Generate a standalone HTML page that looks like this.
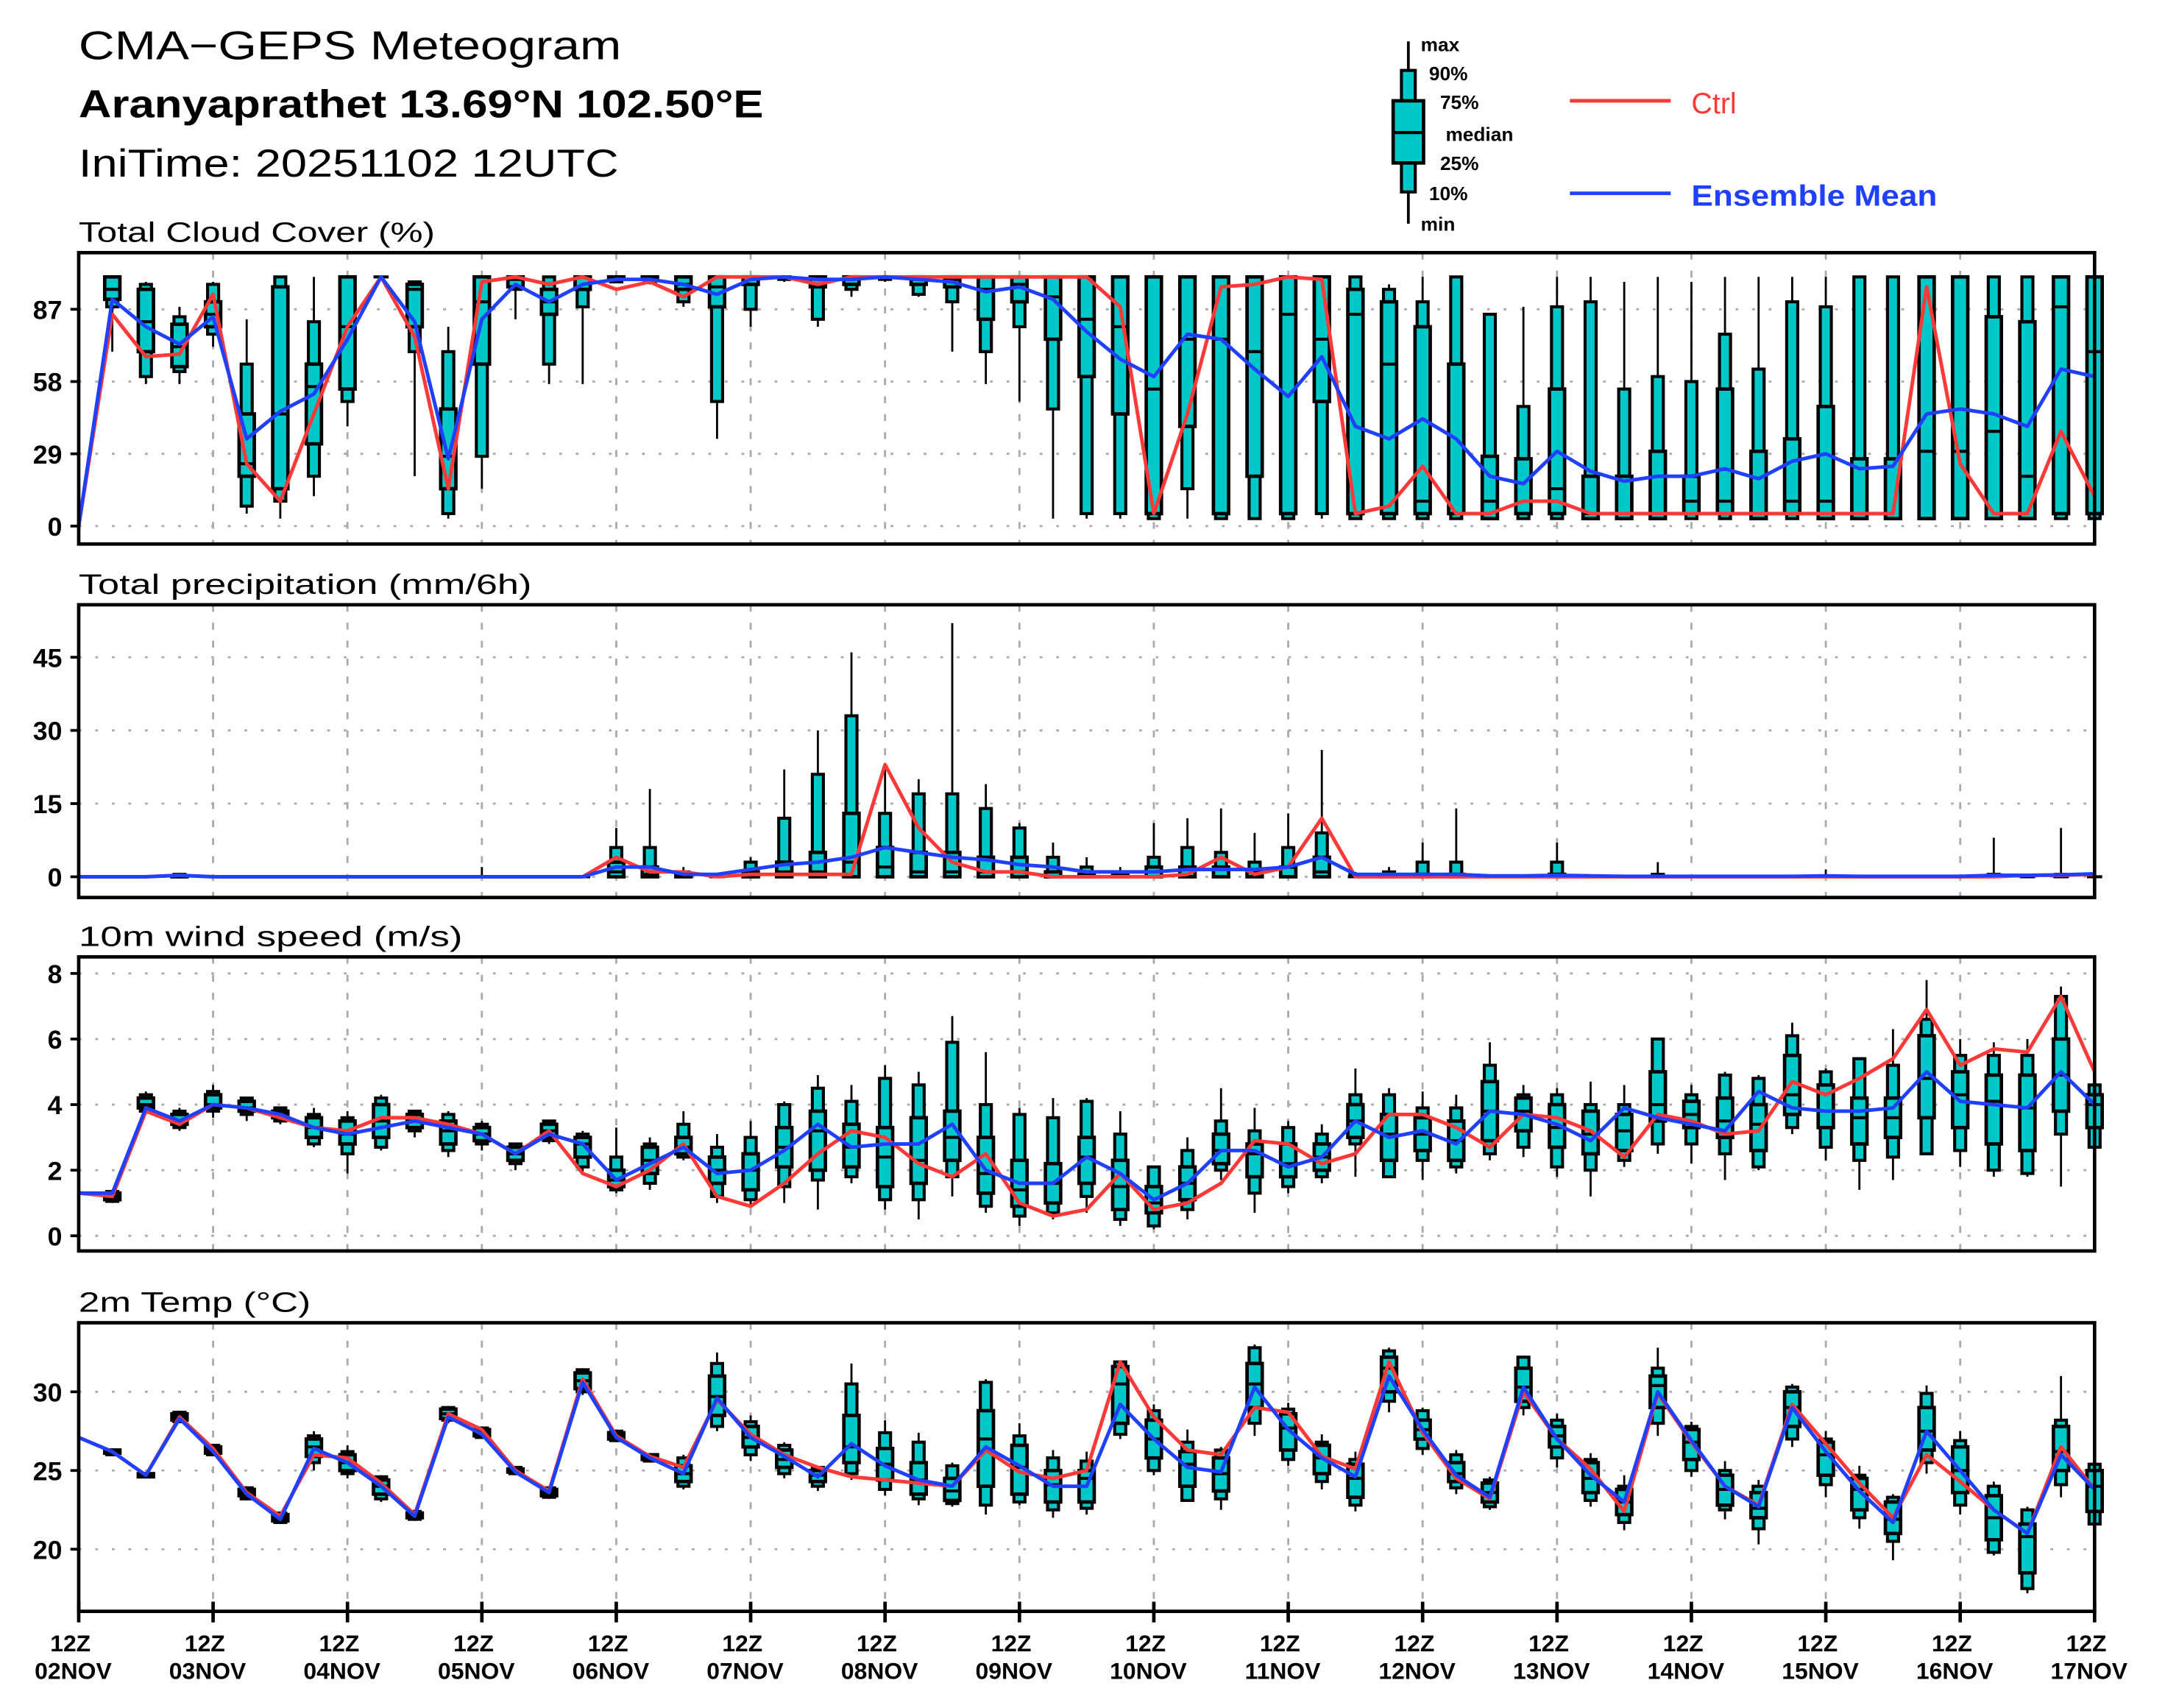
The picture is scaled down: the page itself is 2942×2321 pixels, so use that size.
<!DOCTYPE html>
<html><head><meta charset="utf-8"><style>
html,body{margin:0;padding:0;background:#fff;}
svg{display:block;}
text{font-family:"Liberation Sans",sans-serif;}
</style></head><body>
<svg id="chart" width="2942" height="2321" viewBox="0 0 1568 1237" preserveAspectRatio="none" xmlns="http://www.w3.org/2000/svg">
<rect x="0" y="0" width="1568" height="1237" fill="#fff"/>
<text x="57" y="43" font-size="29" textLength="393" lengthAdjust="spacingAndGlyphs">CMA−GEPS Meteogram</text>
<text x="57" y="85" font-size="28" font-weight="bold" textLength="496" lengthAdjust="spacingAndGlyphs">Aranyaprathet 13.69°N 102.50°E</text>
<text x="57" y="128" font-size="28" textLength="391" lengthAdjust="spacingAndGlyphs">IniTime: 20251102 12UTC</text>
<g id="legend"></g>
<g id="panels"></g>
</svg>
<script>
// ---------- data (index 0..60, 6-hourly from 02NOV 12Z) ----------
const dayLabels = ["02NOV","03NOV","04NOV","05NOV","06NOV","07NOV","08NOV","09NOV","10NOV","11NOV","12NOV","13NOV","14NOV","15NOV","16NOV","17NOV"];
const cloudTicks = [0,29,58,87];
const precipTicks = [0,15,30,45];
const windTicks = [0,2,4,6,8];
const tempTicks = [20,25,30];

const cloudCtrl = [0,85,68,69,93,25,10,45,80,100,76,15,98,100,97,100,95,98,92,100,100,100,97,100,100,100,100,100,100,100,100,88,5,45,96,97,100,99,5,8,24,5,5,10,10,5,5,5,5,5,5,5,5,5,5,96,25,5,5,38,12];
const cloudMean = [0,91,80,73,84,35,46,53,75,100,82,27,83,97,90,97,99,99,97,93,99,100,99,99,100,99,98,94,96,91,78,67,60,77,75,63,52,68,40,35,43,35,20,17,30,22,18,20,20,23,19,26,29,23,24,45,47,45,40,63,60];
const cloudMin = [null,70,57,57,72,5,3,12,40,100,20,3,15,83,57,57,98,97,88,35,80,98,80,92,98,92,70,57,50,3,3,3,3,3,3,3,3,3,3,3,3,3,3,3,3,3,3,3,3,3,3,3,3,3,3,3,3,3,3,3,3];
const cloudP10 = [null,88,60,62,77,8,10,20,50,100,70,5,28,95,65,88,98,98,90,50,87,99,83,95,99,93,90,70,80,47,5,5,3,15,3,3,3,5,3,3,3,3,3,3,3,3,3,3,3,3,3,3,3,3,3,3,3,3,3,3,3];
const cloudQ1 = [null,91,70,64,80,20,15,33,55,100,80,15,65,96,85,95,99,99,95,88,97,100,96,97,100,97,96,83,90,75,60,45,5,40,5,20,5,50,5,5,5,5,3,5,5,3,3,3,5,5,3,5,3,3,3,3,3,3,3,5,5];
const cloudMed = [null,95,82,72,85,25,45,56,80,100,95,28,90,99,90,100,100,100,97,96,100,100,100,100,100,99,99,95,97,92,83,80,55,75,75,70,85,75,85,65,10,5,10,5,15,5,3,3,10,10,5,10,10,3,3,30,30,38,20,88,70];
const cloudQ3 = [null,100,95,81,90,45,96,65,100,100,97,47,100,100,95,100,100,100,100,100,100,100,100,100,100,100,100,100,100,100,100,100,100,100,100,100,100,100,95,90,80,65,28,27,55,20,20,30,20,55,30,35,48,27,27,100,100,84,82,100,100];
const cloudP90 = [null,100,97,84,97,65,100,82,100,100,98,70,100,100,100,100,100,100,100,100,100,100,100,100,100,100,100,100,100,100,100,100,100,100,100,100,100,100,100,95,90,100,85,48,88,90,55,60,58,77,63,90,88,100,100,100,100,100,100,100,100];
const cloudMax = [null,100,98,88,98,83,100,100,100,100,98,80,100,100,100,100,100,100,100,100,100,100,100,100,100,100,100,100,100,100,100,100,100,100,100,100,100,100,100,97,100,100,85,88,100,100,98,100,98,100,100,100,100,100,100,100,100,100,100,100,100];

const precipCtrl = [0,0,0,0.3,0,0,0,0,0,0,0,0,0,0,0,0,4,1,1,0,0.5,0.5,0.5,0.5,23,10,3,1,1,0,0,0,0,0.5,4,0.5,2,12,0,0,0,0,0,0,0,0,0,0,0,0,0,0,0,0,0,0,0,0,0.3,0.3,0.5];
const precipMean = [0,0,0,0.3,0,0,0,0,0,0,0,0,0,0,0,0,2,2,0.5,0.5,1.5,2.5,3,4,6,5,4,3.5,2.5,2,1,1,1,1.5,1.5,1.5,2,4,0.5,0.5,0.5,0.5,0.2,0.2,0.3,0.2,0.1,0.1,0.1,0.1,0.1,0.1,0.2,0.1,0.1,0.1,0.1,0.3,0.3,0.4,0.6];
const precipMax = [null,0,0,0.8,0,0,0,0,0,0,0,0,2,0,0,0,10,18,2,0,4,22,30,46,22,20,52,19,11,7,4,2,11,12,14,9,13,26,1,2,7,14,0,0,7,0,0,3,0,0,0,0,1.5,0,0,0,0,8,0,10,0.5];
const precipP90 = [null,0,0,0.5,0,0,0,0,0,0,0,0,0,0,0,0,6,6,1,0,3,12,21,33,13,17,17,14,10,4,2,1,4,6,5,3,6,9,0.5,1,3,3,0,0,3,0,0,0.5,0,0,0,0,0,0,0,0,0,0.5,0,0.5,0];
const precipQ3 = [null,0,0,0.2,0,0,0,0,0,0,0,0,0,0,0,0,3,2,0.5,0,1,3,5,13,6,5,5,4,4,1,0.5,0.3,2,2,2,1,2,4,0,0.3,0.5,0.5,0,0,0.5,0,0,0,0,0,0,0,0,0,0,0,0,0,0,0,0];
const precipMed = [null,0,0,0,0,0,0,0,0,0,0,0,0,0,0,0,1,0.5,0,0,0,1,1,3,2,1,1,1,1,0,0,0,0,0,0,0,0,1,0,0,0,0,0,0,0,0,0,0,0,0,0,0,0,0,0,0,0,0,0,0,0];
const precipQ1 = [null,0,0,0,0,0,0,0,0,0,0,0,0,0,0,0,0,0,0,0,0,0,0,0,0,0,0,0,0,0,0,0,0,0,0,0,0,0,0,0,0,0,0,0,0,0,0,0,0,0,0,0,0,0,0,0,0,0,0,0,0];
const precipP10 = precipQ1;
const precipMin = precipQ1;

const windCtrl = [1.3,1.2,3.8,3.4,4.0,3.9,3.6,3.3,3.2,3.6,3.6,3.4,3.1,2.5,3.2,1.9,1.5,2.0,2.8,1.2,0.9,1.6,2.5,3.2,3.0,2.2,1.8,2.5,1.0,0.6,0.8,1.9,0.8,1.0,1.6,2.9,2.8,2.2,2.5,3.7,3.7,3.3,2.7,3.7,3.6,3.2,2.4,3.7,3.5,3.1,3.2,4.7,4.3,4.8,5.4,6.9,5.2,5.7,5.6,7.3,5.0];
const windMean = [1.3,1.3,3.9,3.5,4.0,3.9,3.7,3.3,3.1,3.3,3.5,3.3,3.1,2.5,3.1,2.8,1.7,2.2,2.7,1.9,2.0,2.6,3.4,2.7,2.8,2.8,3.4,2.0,1.6,1.6,2.4,1.9,1.1,1.6,2.6,2.6,2.1,2.4,3.5,3.0,3.2,2.8,3.8,3.7,3.4,2.9,3.9,3.6,3.4,3.2,4.4,3.9,3.8,3.8,3.9,5.0,4.1,4.0,3.9,5.0,4.0];
const windMin = [null,1.0,3.7,3.2,3.6,3.5,3.4,2.7,1.9,2.6,3.0,2.4,2.6,2.0,2.8,1.9,1.3,1.4,2.3,1.0,0.9,1.0,0.8,1.6,0.8,0.5,1.2,0.7,0.3,0.5,0.7,0.3,0.2,0.5,1.7,0.7,1.3,1.6,1.8,1.8,1.7,1.9,2.3,2.4,1.8,1.2,2.1,2.5,2.2,1.7,2.0,3.1,2.3,1.4,1.7,2.5,2.1,1.8,1.8,1.5,2.7];
const windP10 = [null,1.05,3.8,3.3,3.8,3.7,3.5,2.8,2.5,2.7,3.2,2.6,2.8,2.2,2.9,2.1,1.4,1.6,2.4,1.2,1.1,1.5,1.7,1.8,1.1,1.1,1.8,0.9,0.6,0.7,1.2,0.5,0.3,0.8,2.0,1.3,1.5,1.8,2.8,1.8,2.3,2.1,2.5,2.7,2.1,2.0,2.3,2.8,2.8,2.5,2.1,3.3,2.7,2.3,2.4,2.5,2.6,2.0,1.9,3.1,2.7];
const windQ1 = [null,1.1,3.9,3.4,3.9,3.8,3.6,3.0,2.8,3.0,3.3,2.8,2.9,2.3,3.0,2.4,1.5,1.9,2.5,1.6,1.4,2.1,2.0,2.1,1.5,1.6,2.3,1.3,0.9,1.0,1.6,0.8,0.7,1.1,2.2,1.8,1.8,2.0,3.0,2.3,2.6,2.3,2.9,3.2,2.7,2.5,2.6,3.5,3.3,3.0,2.6,3.7,3.3,2.8,3.0,3.6,3.3,2.8,2.6,3.8,3.3];
const windMed = [null,1.2,4.0,3.5,4.0,3.9,3.7,3.3,3.1,3.5,3.5,3.2,3.1,2.5,3.2,2.8,1.7,2.3,2.7,2.0,2.0,2.7,3.2,2.7,2.4,2.3,3.0,1.9,1.4,1.6,2.4,1.5,1.0,1.6,2.6,2.5,2.2,2.4,3.5,3.1,3.1,2.9,3.8,3.8,3.3,3.1,3.2,4.0,3.7,3.5,3.4,4.3,3.8,3.6,3.6,4.8,4.3,4.1,3.9,4.9,4.0];
const windQ3 = [null,1.3,4.2,3.7,4.3,4.1,3.8,3.6,3.5,4.0,3.7,3.5,3.3,2.7,3.4,3.0,2.0,2.7,3.0,2.4,2.5,3.3,3.8,3.4,3.3,3.6,3.8,3.0,2.3,2.2,3.0,2.3,1.5,2.1,3.1,2.8,2.8,2.8,4.0,3.7,3.6,3.5,4.7,4.2,4.0,3.8,3.7,5.0,4.1,4.2,4.0,5.5,4.6,4.2,4.2,6.1,5.0,4.9,4.9,6.0,4.3];
const windP90 = [null,1.35,4.3,3.8,4.4,4.2,3.9,3.7,3.6,4.2,3.8,3.7,3.4,2.8,3.5,3.1,2.4,2.8,3.4,2.7,3.0,4.0,4.5,4.1,4.8,4.6,5.9,4.0,3.7,3.6,4.1,3.1,2.1,2.6,3.5,3.2,3.3,3.1,4.3,4.3,3.9,3.9,5.2,4.3,4.3,4.0,4.0,6.0,4.3,4.9,4.8,6.1,5.0,5.4,5.2,6.6,5.5,5.5,5.5,7.3,4.6];
const windMax = [null,1.4,4.4,3.9,4.6,4.2,3.9,3.9,3.8,4.3,3.8,3.8,3.5,2.8,3.5,3.2,3.3,3.0,3.8,3.1,3.5,4.1,4.9,4.6,5.2,5.0,6.7,5.6,3.9,4.2,4.2,3.8,2.1,3.0,4.5,3.9,3.5,3.4,5.1,4.5,4.4,4.3,5.9,4.6,4.5,4.7,4.6,6.0,4.6,5.0,4.9,6.5,5.1,5.4,6.3,7.8,6.0,5.9,6.0,7.6,5.0];

const tempCtrl = [27.1,26.2,24.7,28.4,26.4,23.6,22.1,26.0,25.8,24.2,22.2,28.6,27.6,25.0,23.7,30.8,27.2,25.9,25.2,29.5,27.3,26.0,25.2,24.6,24.4,24.2,24.0,26.3,24.9,24.5,25.0,31.9,28.4,26.3,26.0,29.0,28.7,25.9,25.1,31.9,27.4,24.5,23.2,30.0,27.0,25.1,22.4,29.9,26.8,24.0,22.8,29.2,26.7,24.2,22.0,26.0,24.3,22.5,21.0,26.5,23.8];
const tempMean = [27.1,26.2,24.7,28.3,26.2,23.5,21.9,26.4,25.5,24.0,22.1,28.4,27.3,24.9,23.6,30.6,27.1,25.8,24.8,29.6,27.1,25.9,24.6,26.7,25.3,24.4,24.0,26.5,25.3,24.0,24.0,29.2,27.0,25.2,24.9,30.3,27.6,25.8,24.6,31.0,27.6,24.7,23.3,30.3,27.0,24.7,23.0,30.0,26.9,24.0,22.7,29.0,26.2,23.7,21.7,27.5,25.0,22.5,21.0,26.0,23.8];
const tempMin = [null,26.0,24.5,28.0,25.9,23.1,21.6,25.0,24.5,23.0,21.8,28.0,27.0,24.7,23.2,29.8,26.8,25.5,23.8,27.5,25.6,24.5,23.7,24.4,23.4,22.8,22.7,22.2,22.8,22.0,22.2,27.0,24.7,23.0,22.5,27.2,25.3,23.8,22.4,28.7,26.0,23.5,22.5,28.5,25.2,22.7,21.2,27.2,24.6,21.9,20.3,26.5,23.3,21.3,19.3,24.8,22.2,19.6,17.2,23.3,21.3];
const tempP10 = [null,26.0,24.6,28.1,26.0,23.2,21.7,25.5,24.8,23.2,21.9,28.2,27.1,24.8,23.3,30.0,26.9,25.6,24.0,27.8,26.0,24.8,24.0,24.8,23.8,23.2,22.9,22.8,23.0,22.5,22.6,27.3,25.0,23.1,23.2,28.0,25.7,24.3,22.8,29.4,26.4,23.9,22.7,29.0,25.8,23.1,21.7,28.0,25.0,22.5,21.3,27.0,24.1,22.0,20.5,25.5,22.8,19.8,17.5,24.1,21.6];
const tempQ1 = [null,26.1,24.6,28.2,26.1,23.4,21.8,25.9,25.0,23.5,22.0,28.3,27.2,24.9,23.4,30.2,27.0,25.7,24.3,28.5,26.5,25.2,24.3,25.5,24.4,23.5,23.1,24.0,23.5,23.0,23.0,28.0,25.8,24.0,23.7,29.0,26.3,24.8,23.3,30.0,27.0,24.3,23.0,29.4,26.5,23.6,22.2,29.0,25.7,22.8,22.0,27.8,24.7,22.5,21.0,26.3,23.6,20.6,18.5,25.0,22.4];
const tempMed = [null,26.2,24.7,28.4,26.3,23.6,22.0,26.5,25.5,24.0,22.1,28.6,27.4,25.0,23.6,30.7,27.2,25.9,24.8,29.7,27.1,25.7,24.7,26.5,25.4,24.4,23.7,27.0,25.2,24.1,24.5,30.5,27.0,25.4,24.8,30.5,27.7,25.8,24.5,31.5,27.6,24.8,23.6,30.3,27.2,24.5,23.0,30.4,26.8,23.8,22.6,29.0,26.0,23.8,21.9,27.5,25.0,22.0,20.8,26.2,24.0];
const tempQ3 = [null,26.3,24.8,28.6,26.5,23.8,22.2,27.0,26.0,24.4,22.3,28.9,27.6,25.1,23.8,31.2,27.4,26.0,25.3,31.0,27.8,26.3,25.0,28.5,26.4,25.5,24.5,28.8,26.6,25.0,25.0,31.6,28.2,26.2,25.8,31.8,28.6,26.6,25.4,32.2,28.2,25.5,24.2,31.5,27.8,25.5,23.8,31.0,27.6,24.7,23.6,30.0,26.8,24.5,23.0,29.0,26.5,23.4,21.6,27.8,25.0];
const tempP90 = [null,26.3,24.8,28.7,26.6,23.9,22.3,27.2,26.2,24.6,22.4,29.0,27.7,25.2,23.9,31.4,27.5,26.0,25.8,31.8,28.1,26.6,25.2,30.5,27.4,26.8,25.3,30.6,27.2,25.8,25.6,31.9,28.8,26.8,26.3,32.8,28.9,26.8,25.7,32.6,28.8,26.0,24.4,32.2,28.2,25.7,24.0,31.5,27.8,25.0,24.0,30.3,27.0,24.7,23.3,29.9,26.9,24.0,22.5,28.2,25.4];
const tempMax = [null,26.4,24.9,28.8,26.7,24.0,22.4,27.5,26.6,24.7,22.5,29.1,27.8,25.2,24.0,31.5,27.6,26.1,26.0,32.5,28.5,26.8,25.3,31.8,28.2,27.4,25.5,30.8,28.0,26.3,26.2,32.0,29.2,27.6,26.5,33.0,29.3,27.3,26.2,32.8,29.0,26.3,24.6,32.3,28.6,26.1,24.7,32.8,28.1,25.6,24.4,30.5,27.5,25.3,23.5,30.4,27.5,24.3,22.7,31.0,25.8];

// ---------- layout ----------
const NS = "http://www.w3.org/2000/svg";
const svg = document.getElementById("chart");
const panelsG = document.getElementById("panels");
const X0 = 57, X1 = 1517, NSTEP = 60;
function xScale(i){ return X0 + (X1 - X0) * i / NSTEP; }
function mk(tag, attrs, parent){
  const e = document.createElementNS(NS, tag);
  for (const k in attrs) e.setAttribute(k, attrs[k]);
  (parent || svg).appendChild(e);
  return e;
}
function lin(v0, y0, v1, y1){ return v => y0 + (v - v0) * (y1 - y0) / (v1 - v0); }

const panels = [
  {key:"cloud", title:"Total Cloud Cover (%)", tl:258, top:183, bot:394, y:lin(0,381,87,224), ticks:cloudTicks,
   mn:cloudMin,p10:cloudP10,q1:cloudQ1,md:cloudMed,q3:cloudQ3,p90:cloudP90,mx:cloudMax,ctrl:cloudCtrl,mean:cloudMean},
  {key:"precip", title:"Total precipitation (mm/6h)", tl:328, top:438, bot:650, y:lin(0,635,45,476), ticks:precipTicks,
   mn:precipMin,p10:precipP10,q1:precipQ1,md:precipMed,q3:precipQ3,p90:precipP90,mx:precipMax,ctrl:precipCtrl,mean:precipMean},
  {key:"wind", title:"10m wind speed (m/s)", tl:278, top:693, bot:906, y:lin(0,895,8,705), ticks:windTicks,
   mn:windMin,p10:windP10,q1:windQ1,md:windMed,q3:windQ3,p90:windP90,mx:windMax,ctrl:windCtrl,mean:windMean},
  {key:"temp", title:"2m Temp (°C)", tl:168, top:958, bot:1167, y:lin(20,1122,30,1008), ticks:tempTicks,
   mn:tempMin,p10:tempP10,q1:tempQ1,md:tempMed,q3:tempQ3,p90:tempP90,mx:tempMax,ctrl:tempCtrl,mean:tempMean}
];

panels.forEach((p, pi) => {
  const g = mk("g", {}, panelsG);
  
  
  const t = mk("text", {x:57, y:p.top-8, "font-size":20, textLength:p.tl, lengthAdjust:"spacingAndGlyphs"}, g);
  t.textContent = p.title;
  
  
  for (let d = 1; d < 15; d++){
    const gx = xScale(d*4);
    const gl = mk("line", {x1:gx, x2:gx, y1:p.top, y2:p.bot, stroke:"#aaa", "stroke-width":1.5, "stroke-dasharray":"5,8"}, g);
    
    
  }
  p.ticks.forEach(v => {
    const ty = p.y(v);
    const gl = mk("line", {x1:X0, x2:X1, y1:ty, y2:ty, stroke:"#aaa", "stroke-width":1.5, "stroke-dasharray":"2,10"}, g);
    
    
    const tk = mk("line", {x1:X0-6, x2:X0, y1:ty, y2:ty, stroke:"#000", "stroke-width":2}, g);
    
    
    const lb = mk("text", {x:X0-12, y:ty+7, "font-size":19, "font-weight":"bold", "text-anchor":"end"}, g);
    lb.textContent = String(v);
    
    
  });
  for (let i = 1; i <= NSTEP; i++){
    if (p.mx[i] == null) continue;
    const cx = xScale(i);
    const bg = mk("g", {}, g);
    
    
    mk("line", {x1:cx, x2:cx, y1:p.y(p.mn[i]), y2:p.y(p.mx[i]), stroke:"#000", "stroke-width":1.5}, bg);
    const yp90 = p.y(p.p90[i]), yp10 = p.y(p.p10[i]);
    if (yp10 - yp90 > 0.5) mk("rect", {x:cx-4, y:yp90, width:8, height:yp10-yp90, fill:"#00c8c8", stroke:"#000", "stroke-width":2.2}, bg);
    const yq3 = p.y(p.q3[i]), yq1 = p.y(p.q1[i]);
    if (yq1 - yq3 > 0.5) mk("rect", {x:cx-5.5, y:yq3, width:11, height:yq1-yq3, fill:"#00c8c8", stroke:"#000", "stroke-width":2.5}, bg);
    const ym = p.y(p.md[i]);
    mk("line", {x1:cx-5.5, x2:cx+5.5, y1:ym, y2:ym, stroke:"#000", "stroke-width":2.2}, bg);
  }
  const ptsC = p.ctrl.map((v,i) => xScale(i) + "," + p.y(v)).join(" ");
  const ptsM = p.mean.map((v,i) => xScale(i) + "," + p.y(v)).join(" ");
  const lc = mk("polyline", {points:ptsC, fill:"none", stroke:"#ff3838", "stroke-width":2.6, "stroke-linejoin":"round"}, g);
  
  
  const lm = mk("polyline", {points:ptsM, fill:"none", stroke:"#2040ff", "stroke-width":2.6, "stroke-linejoin":"round"}, g);
  
  
  const fr = mk("rect", {x:X0, y:p.top, width:X1-X0, height:p.bot-p.top, fill:"none", stroke:"#000", "stroke-width":2.5}, g);
  
  
});

const xa = mk("g", {});


dayLabels.forEach((lab, d) => {
  const x = xScale(d*4);
  mk("line", {x1:x, x2:x, y1:1160, y2:1175, stroke:"#000", "stroke-width":2.5}, xa);
  const t1 = mk("text", {x:x-6, y:1196, "font-size":17, "font-weight":"bold", "text-anchor":"middle"}, xa);
  t1.textContent = "12Z";
  
  
  const t2 = mk("text", {x:x-4, y:1216, "font-size":17, "font-weight":"bold", "text-anchor":"middle"}, xa);
  t2.textContent = lab;
  
  
});

const lg = document.getElementById("legend");
mk("line", {x1:1020, x2:1020, y1:30, y2:162, stroke:"#000", "stroke-width":2}, lg);
mk("rect", {x:1015, y:51, width:10, height:88, fill:"#00c8c8", stroke:"#000", "stroke-width":2.2}, lg);
mk("rect", {x:1009, y:73, width:22, height:45, fill:"#00c8c8", stroke:"#000", "stroke-width":2.5}, lg);
mk("line", {x1:1009, x2:1031, y1:96, y2:96, stroke:"#000", "stroke-width":2.2}, lg);
[["max",1029,37],["90%",1035,58],["75%",1043,79],["median",1047,102],["25%",1043,123],["10%",1035,145],["min",1029,167]].forEach(a => {
  const t = mk("text", {x:a[1], y:a[2], "font-size":14, "font-weight":"bold"}, lg);
  t.textContent = a[0];
  
  
});
mk("line", {x1:1137, x2:1210, y1:73, y2:73, stroke:"#ff3838", "stroke-width":2.6}, lg);
const lt1 = mk("text", {x:1225, y:82, "font-size":21, fill:"#ff3838"}, lg);
lt1.textContent = "Ctrl";


mk("line", {x1:1137, x2:1210, y1:140, y2:140, stroke:"#2040ff", "stroke-width":2.6}, lg);
const lt2 = mk("text", {x:1225, y:149, "font-size":21, "font-weight":"bold", fill:"#2040ff", textLength:178, lengthAdjust:"spacingAndGlyphs"}, lg);
lt2.textContent = "Ensemble Mean";


</script>
</body></html>
